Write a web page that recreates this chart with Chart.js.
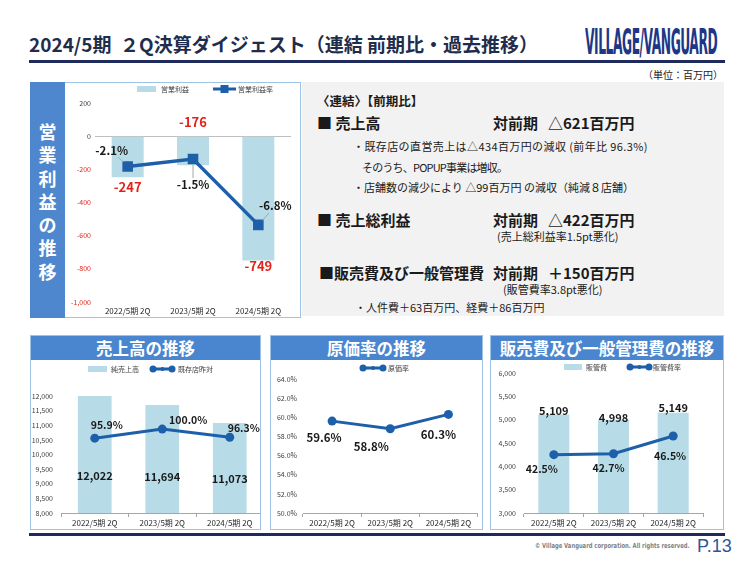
<!DOCTYPE html>
<html>
<head>
<meta charset="utf-8">
<script src="https://cdn.jsdelivr.net/npm/chart.js"></script>
<style>
  body { margin: 0; width: 750px; height: 563px; overflow: hidden; background: #fff; position: relative;
         font-family: "Noto Sans CJK JP", "Noto Sans", sans-serif; color: #1a1a1a; }
  .a { position: absolute; white-space: nowrap; line-height: 1; }
  .b { font-weight: bold; }
  canvas { position: absolute; }
  .panel { position: absolute; top: 335px; height: 195px; box-sizing: border-box; border: 1px solid #9dc3e6;
           background: #fff; overflow: hidden; }
  .panel .head { height: 24px; line-height: 24px; background: #4a86cf; color: #fff; font-weight: bold;
                 font-size: 16.5px; text-align: center; }
  .panel canvas { top: 24px; left: 0; }
</style>
</head>
<body>

<div class="a b" style="left:29px;top:34px;font-size:19px;color:#1f2d4d;white-space:pre;">2024/5期  ２Q決算ダイジェスト（連結 前期比・過去推移）</div>
<div id="logo" class="a b" style="left:585px;top:25px;font-size:31px;color:#1d3786;font-family:'DejaVu Sans Condensed';transform-origin:0 0;letter-spacing:-1px;">VILLAGE/VANGUARD</div>
<div class="a" style="left:29px;top:60px;width:696px;height:3px;background:#1f2a5c;"></div>
<div class="a" style="left:643px;top:70px;font-size:10px;">（単位：百万円）</div>

<!-- 営業利益の推移 -->
<div class="a" style="left:30px;top:82px;width:271px;height:236px;box-sizing:border-box;border:1px solid #9dc3e6;background:#fff;"></div>
<div class="a" style="left:30px;top:82px;width:35px;height:236px;background:#4f87cf;"></div>
<div class="a b" style="left:30px;top:120px;width:35px;font-size:18px;color:#fff;text-align:center;line-height:23.3px;white-space:normal;">営<br>業<br>利<br>益<br>の<br>推<br>移</div>
<canvas id="c1" width="233" height="234" style="left:66px;top:83px;"></canvas>

<!-- 前期比 text -->
<div class="a" style="left:302px;top:82px;width:422px;height:234px;background:#f2f2f2;"></div>
<div class="a b" style="left:317px;top:95px;font-size:12.5px;">〈連結〉【前期比】</div>
<div class="a b" style="left:317px;top:115px;font-size:15px;">■ 売上高</div>
<div class="a b" style="left:493px;top:115px;font-size:15px;">対前期</div>
<div class="a b" style="left:548px;top:115px;font-size:15px;">△621百万円</div>
<div class="a" style="left:353px;top:141px;font-size:11px;letter-spacing:0.4px;">・既存店の直営売上は△434百万円の減収 (前年比 96.3%)</div>
<div class="a" style="left:362px;top:162px;font-size:11px;letter-spacing:-0.8px;">そのうち、POPUP事業は増収。</div>
<div class="a" style="left:353px;top:182px;font-size:11px;">・店舗数の減少により △99百万円 の減収（純減８店舗）</div>
<div class="a b" style="left:317px;top:212px;font-size:15px;">■ 売上総利益</div>
<div class="a b" style="left:493px;top:212px;font-size:15px;">対前期</div>
<div class="a b" style="left:548px;top:212px;font-size:15px;">△422百万円</div>
<div class="a" style="left:497px;top:231px;font-size:11px;">(売上総利益率1.5pt悪化)</div>
<div class="a b" style="left:319px;top:265px;font-size:15px;">■販売費及び一般管理費</div>
<div class="a b" style="left:493px;top:265px;font-size:15px;">対前期</div>
<div class="a b" style="left:548px;top:265px;font-size:15px;">＋150百万円</div>
<div class="a" style="left:503px;top:284px;font-size:11px;">(販管費率3.8pt悪化)</div>
<div class="a" style="left:355px;top:302px;font-size:11px;">・人件費＋63百万円、経費＋86百万円</div>

<!-- bottom panels -->
<div class="panel" style="left:30px;width:231px;"><div class="head">売上高の推移</div><canvas id="c2" width="237" height="169"></canvas></div>
<div class="panel" style="left:270px;width:213px;"><div class="head">原価率の推移</div><canvas id="c3" width="211" height="169"></canvas></div>
<div class="panel" style="left:490px;width:234px;"><div class="head">販売費及び一般管理費の推移</div><canvas id="c4" width="232" height="169"></canvas></div>

<div class="a" style="left:29px;top:533px;width:696px;height:3px;background:#1f2a5c;"></div>
<div id="copy" class="a b" style="left:535px;top:543px;font-size:7px;color:#7f7f7f;font-family:'DejaVu Sans Condensed';transform-origin:0 0;">© Village Vanguard corporation. All rights reserved.</div>
<div class="a" style="left:697px;top:537px;font-size:18px;color:#2f5597;font-family:'Liberation Sans';">P.13</div>

<script>
// data
const periods = ['2022/5期 2Q', '2023/5期 2Q', '2024/5期 2Q'];
const opProfit = [-247, -176, -749];
const opMargin = [-2.1, -1.5, -6.8];
const netSales = [12022, 11694, 11073];
const sameStoreYoY = [95.9, 100.0, 96.3];
const costRatio = [59.6, 58.8, 60.3];
const sgaCost = [5109, 4998, 5149];
const sgaRatio = [42.5, 42.7, 46.5];

const BAR = '#b7dce8';
const LINE = '#1d5fa9';
const RED = '#e2231a';
const FONT = "'Noto Sans CJK JP', 'Noto Sans', sans-serif";
Chart.defaults.font.family = FONT;
Chart.defaults.color = '#404040';

function fit(id, w, sy) {
  const el = document.getElementById(id);
  el.style.transform = 'scale(' + (w / el.offsetWidth) + ',' + (sy || 1) + ')';
}
fit('logo', 132, 1.12);
fit('copy', 155);

const comma = v => v.toLocaleString('en-US');
const pct = v => v.toFixed(1) + '%';

// draws value labels next to bars / points
const valueLabels = {
  id: 'valueLabels',
  afterDatasetsDraw(chart, args, opts) {
    const ctx = chart.ctx;
    (opts.sets || []).forEach(s => {
      const meta = chart.getDatasetMeta(s.dataset);
      const vals = chart.data.datasets[s.dataset].data;
      meta.data.forEach((el, i) => {
        const x = el.x + s.offsets[i][0];
        const y = el.y + s.offsets[i][1];
        const text = s.format(vals[i]);
        ctx.save();
        ctx.font = s.font;
        if (s.leader) {
          const hw = ctx.measureText(text).width / 2 + 2, hh = 7;
          const dx = x - el.x, dy = y - el.y, len = Math.hypot(dx, dy);
          const t = Math.min(dx ? hw / Math.abs(dx) : Infinity, dy ? hh / Math.abs(dy) : Infinity);
          const g = 6 / len;
          if (t < 1 - g) {
            ctx.strokeStyle = s.leader; ctx.lineWidth = 1;
            ctx.beginPath();
            ctx.moveTo(el.x + dx * g, el.y + dy * g);
            ctx.lineTo(x - dx * t, y - dy * t);
            ctx.stroke();
          }
        }
        ctx.fillStyle = s.color;
        ctx.textAlign = 'center';
        ctx.textBaseline = 'middle';
        ctx.fillText(text, x, y);
        ctx.restore();
      });
    });
  }
};

// small legend drawn with each dataset's own style
const iconLegend = {
  id: 'iconLegend',
  afterDraw(chart, args, opts) {
    const ctx = chart.ctx;
    const y = opts.y;
    (opts.items || []).forEach(it => {
      const ds = chart.data.datasets[it.dataset];
      const isLine = (ds.type || chart.config.type) === 'line';
      ctx.save();
      if (isLine) {
        ctx.strokeStyle = ds.borderColor; ctx.lineWidth = 3;
        ctx.beginPath(); ctx.moveTo(it.x, y); ctx.lineTo(it.x + it.w, y); ctx.stroke();
        ctx.fillStyle = ds.borderColor;
        if (ds.pointStyle === 'rect') {
          ctx.fillRect(it.x + it.w / 2 - 4, y - 4, 8, 8);
        } else {
          [[it.x + 3, 3.5], [it.x + it.w / 2, 2], [it.x + it.w - 3, 3.5]].forEach(([cx, r]) => {
            ctx.beginPath(); ctx.arc(cx, y, r, 0, Math.PI * 2); ctx.fill();
          });
        }
      } else {
        ctx.fillStyle = ds.backgroundColor;
        ctx.fillRect(it.x, y - 3, it.w, 6);
      }
      ctx.fillStyle = '#404040';
      ctx.font = '7px ' + FONT;
      ctx.textAlign = 'left';
      ctx.textBaseline = 'middle';
      ctx.fillText(ds.label, it.tx, y);
      ctx.restore();
    });
  }
};

const tickFont = { size: 7 };
const catFont = { size: 8 };

function catAxis(pad, offsetLine) {
  return {
    offset: true,
    grid: offsetLine ? { offset: true, drawOnChartArea: false, drawTicks: true, tickLength: 4, color: '#a6a6a6' }
                     : { display: false, drawTicks: false },
    border: { display: !!offsetLine, color: '#a6a6a6' },
    ticks: { font: catFont, color: '#262626', padding: pad, maxRotation: 0 },
  };
}

// 営業利益の推移
new Chart(document.getElementById('c1'), {
  type: 'bar',
  data: {
    labels: periods,
    datasets: [
      { type: 'line', label: '営業利益率', data: opMargin, yAxisID: 'y1', borderColor: LINE, backgroundColor: LINE,
        borderWidth: 3.5, pointStyle: 'rect', pointRadius: 7.5, pointBorderWidth: 0, order: 0 },
      { label: '営業利益', data: opProfit, backgroundColor: BAR, barPercentage: 0.49, categoryPercentage: 1, order: 1 }
    ]
  },
  options: {
    responsive: false, animation: false,
    layout: { padding: { top: 20, right: 8, left: 0, bottom: 0 } },
    plugins: {
      legend: { display: false }, tooltip: { enabled: false },
      iconLegend: { y: 6, items: [{ dataset: 1, x: 71, w: 19, tx: 95 }, { dataset: 0, x: 147, w: 23, tx: 172 }] },
      valueLabels: { sets: [
        { dataset: 1, format: v => String(v), font: 'bold 13px ' + FONT, color: RED, offsets: [[0, 10], [0, -43], [0, 6]] },
        { dataset: 0, format: pct, font: 'bold 11.5px ' + FONT, color: '#1a1a1a', leader: '#a6a6a6',
          offsets: [[-16, -16], [0, 26], [17, -19]] }
      ] }
    },
    scales: {
      x: Object.assign(catAxis(4, false), { afterFit: s => { s.height = 15; } }),
      y: {
        min: -1000, max: 200,
        ticks: { stepSize: 200, callback: comma, font: tickFont, padding: 4,
                 color: c => (c.tick && c.tick.value < 0 ? RED : '#404040') },
        grid: { drawTicks: false, color: c => (c.tick && c.tick.value === 0 ? '#bfbfbf' : 'rgba(0,0,0,0)') },
        border: { display: false },
        afterFit: s => { s.width = 29; }
      },
      y1: { display: false, min: -13, max: 3 }
    }
  },
  plugins: [iconLegend, valueLabels]
});

// 売上高の推移
new Chart(document.getElementById('c2'), {
  type: 'bar',
  data: {
    labels: periods,
    datasets: [
      { type: 'line', label: '既存店昨対', data: sameStoreYoY, yAxisID: 'y1', borderColor: LINE, backgroundColor: LINE,
        borderWidth: 3, pointRadius: 4.5, pointBorderWidth: 0, order: 0 },
      { label: '純売上高', data: netSales, backgroundColor: BAR, barPercentage: 0.5, categoryPercentage: 1, order: 1 }
    ]
  },
  options: {
    responsive: false, animation: false,
    layout: { padding: { top: 36, right: 2, left: 0, bottom: 0 } },
    plugins: {
      legend: { display: false }, tooltip: { enabled: false },
      iconLegend: { y: 9, items: [{ dataset: 1, x: 57, w: 19, tx: 80 }, { dataset: 0, x: 119, w: 25, tx: 147 }] },
      valueLabels: { sets: [
        { dataset: 1, format: comma, font: 'bold 11px ' + FONT, color: '#1a1a1a', offsets: [[0, 80], [0, 72], [0, 56]] },
        { dataset: 0, format: pct, font: 'bold 10.5px ' + FONT, color: '#1a1a1a', offsets: [[12, -13], [26, -9], [14, -9]] }
      ] }
    },
    scales: {
      x: Object.assign(catAxis(1, true), { afterFit: s => { s.height = 16; } }),
      y: {
        min: 8000, max: 12000,
        ticks: { stepSize: 500, callback: comma, font: tickFont, padding: 8 },
        grid: { display: false, drawTicks: false }, border: { display: false },
        afterFit: s => { s.width = 30; }
      },
      y1: { display: false, min: 62, max: 115 }
    }
  },
  plugins: [iconLegend, valueLabels]
});

// 原価率の推移
new Chart(document.getElementById('c3'), {
  type: 'line',
  data: {
    labels: periods,
    datasets: [
      { label: '原価率', data: costRatio, borderColor: LINE, backgroundColor: LINE,
        borderWidth: 3, pointRadius: 4.5, pointBorderWidth: 0 }
    ]
  },
  options: {
    responsive: false, animation: false,
    layout: { padding: { top: 19, right: 1, left: 0, bottom: 0 } },
    plugins: {
      legend: { display: false }, tooltip: { enabled: false },
      iconLegend: { y: 8, items: [{ dataset: 0, x: 89, w: 26, tx: 117 }] },
      valueLabels: { sets: [
        { dataset: 0, format: pct, font: 'bold 11.5px ' + FONT, color: '#1a1a1a', offsets: [[-8, 17], [-19, 18], [-10, 20]] }
      ] }
    },
    scales: {
      x: Object.assign(catAxis(1, true), { afterFit: s => { s.height = 16; } }),
      y: {
        min: 50, max: 64,
        ticks: { stepSize: 2, callback: pct, font: tickFont, padding: 6 },
        grid: { display: false, drawTicks: false }, border: { display: false },
        afterFit: s => { s.width = 32; }
      }
    }
  },
  plugins: [iconLegend, valueLabels]
});

// 販売費及び一般管理費の推移
new Chart(document.getElementById('c4'), {
  type: 'bar',
  data: {
    labels: periods,
    datasets: [
      { type: 'line', label: '販管費率', data: sgaRatio, yAxisID: 'y1', borderColor: LINE, backgroundColor: LINE,
        borderWidth: 3, pointRadius: 4.5, pointBorderWidth: 0, order: 0 },
      { label: '販管費', data: sgaCost, backgroundColor: BAR, barPercentage: 0.52, categoryPercentage: 1, order: 1 }
    ]
  },
  options: {
    responsive: false, animation: false,
    layout: { padding: { top: 13, right: 20, left: 0, bottom: 0 } },
    plugins: {
      legend: { display: false }, tooltip: { enabled: false },
      iconLegend: { y: 7, items: [{ dataset: 1, x: 73, w: 18, tx: 95 }, { dataset: 0, x: 136, w: 25, tx: 162 }] },
      valueLabels: { sets: [
        { dataset: 1, format: comma, font: 'bold 11px ' + FONT, color: '#1a1a1a', offsets: [[0, -4], [0, -2], [0, -5]] },
        { dataset: 0, format: pct, font: 'bold 10.5px ' + FONT, color: '#1a1a1a', offsets: [[-12, 14], [-5, 14], [-3, 20]] }
      ] }
    },
    scales: {
      x: Object.assign(catAxis(1, true), { afterFit: s => { s.height = 16; } }),
      y: {
        min: 3000, max: 6000,
        ticks: { stepSize: 500, callback: comma, font: tickFont, padding: 8 },
        grid: { display: false, drawTicks: false }, border: { display: false },
        afterFit: s => { s.width = 33; }
      },
      y1: { display: false, min: 30, max: 60 }
    }
  },
  plugins: [iconLegend, valueLabels]
});
</script>
</body>
</html>
